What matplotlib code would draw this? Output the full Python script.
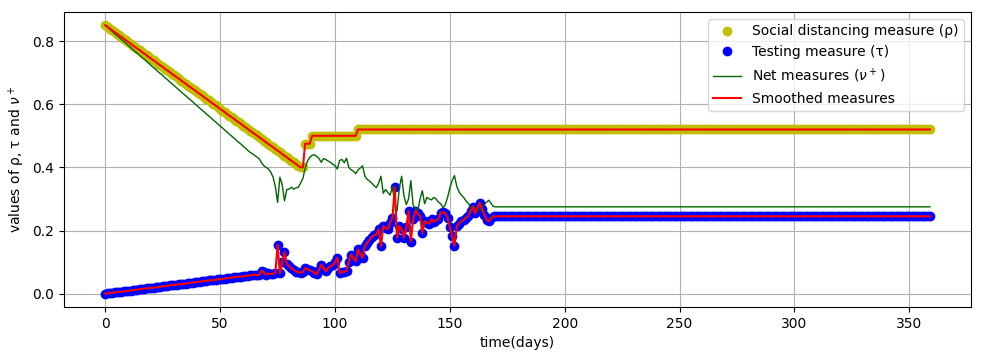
import matplotlib
matplotlib.use('Agg')
import matplotlib.pyplot as plt
import numpy as np

# Social distancing measure (rho), one value per day
rho_decline = [
    0.850, 0.845, 0.839, 0.834, 0.829, 0.824, 0.818, 0.813, 0.808, 0.802,
    0.797, 0.792, 0.786, 0.781, 0.776, 0.771, 0.765, 0.760, 0.755, 0.749,
    0.744, 0.739, 0.734, 0.728, 0.723, 0.718, 0.712, 0.707, 0.702, 0.696,
    0.691, 0.686, 0.681, 0.675, 0.670, 0.665, 0.659, 0.654, 0.649, 0.644,
    0.638, 0.633, 0.628, 0.622, 0.617, 0.612, 0.606, 0.601, 0.596, 0.591,
    0.585, 0.580, 0.575, 0.569, 0.564, 0.559, 0.554, 0.548, 0.543, 0.538,
    0.532, 0.527, 0.522, 0.516, 0.511, 0.506, 0.501, 0.495, 0.490, 0.485,
    0.479, 0.474, 0.469, 0.464, 0.458, 0.453, 0.448, 0.442, 0.437, 0.432,
    0.426, 0.421, 0.416, 0.411, 0.405, 0.400,
]
rho = rho_decline + [0.400] + [0.475] * 3 + [0.500] * 20 + [0.520] * 250

# Testing measure (tau)
tau_early = [
    0.000, 0.001, 0.002, 0.003, 0.004, 0.005, 0.006, 0.006, 0.007, 0.008,
    0.009, 0.010, 0.011, 0.012, 0.013, 0.014, 0.015, 0.016, 0.017, 0.018,
    0.018, 0.019, 0.020, 0.021, 0.022, 0.023, 0.024, 0.025, 0.026, 0.027,
    0.028, 0.029, 0.030, 0.030, 0.031, 0.032, 0.033, 0.034, 0.035, 0.036,
    0.037, 0.038, 0.039, 0.040, 0.041, 0.042, 0.042, 0.043, 0.044, 0.045,
    0.046, 0.047, 0.048, 0.049, 0.050, 0.051, 0.052, 0.053, 0.054, 0.054,
    0.055, 0.056, 0.057, 0.058, 0.059, 0.060,
]
tau_mid = [
    0.058, 0.060, 0.072, 0.068, 0.060, 0.064, 0.062, 0.063, 0.066, 0.155,
    0.064, 0.100, 0.132, 0.095, 0.087, 0.080, 0.075, 0.070, 0.068, 0.066,
    0.070, 0.080, 0.078, 0.074, 0.071, 0.066, 0.061, 0.075, 0.092, 0.082,
    0.071, 0.080, 0.087, 0.090, 0.100, 0.114, 0.066, 0.068, 0.070, 0.071,
    0.100, 0.124, 0.112, 0.103, 0.140, 0.125, 0.114, 0.151, 0.161, 0.170,
    0.180, 0.185, 0.188, 0.204, 0.150, 0.214, 0.208, 0.204, 0.225, 0.241,
    0.337, 0.177, 0.214, 0.204, 0.177, 0.210, 0.262, 0.165, 0.236, 0.262,
    0.255, 0.246, 0.193, 0.230, 0.225, 0.222, 0.236, 0.228, 0.232, 0.236,
    0.257, 0.258, 0.255, 0.241, 0.210, 0.183, 0.152, 0.214, 0.222, 0.230,
    0.234, 0.240, 0.246, 0.262, 0.276, 0.254, 0.272, 0.288, 0.268, 0.250,
    0.232, 0.230, 0.240,
]
tau = tau_early + tau_mid + [0.245] * 191

# Net measures (nu+)
net_early = [
    0.850, 0.844, 0.837, 0.831, 0.824, 0.818, 0.812, 0.805, 0.799, 0.793,
    0.786, 0.780, 0.773, 0.767, 0.761, 0.754, 0.748, 0.742, 0.735, 0.729,
    0.722, 0.716, 0.710, 0.703, 0.697, 0.691, 0.684, 0.678, 0.671, 0.665,
    0.659, 0.652, 0.646, 0.639, 0.633, 0.627, 0.620, 0.614, 0.608, 0.601,
    0.595, 0.588, 0.582, 0.576, 0.569, 0.563, 0.557, 0.550, 0.544, 0.537,
    0.531, 0.525, 0.518, 0.512, 0.505, 0.499, 0.493, 0.486, 0.480, 0.474,
    0.467, 0.461, 0.454, 0.448,
]
net_mid = [
    0.443, 0.438, 0.433, 0.427, 0.415, 0.405, 0.400, 0.395, 0.385, 0.370,
    0.340, 0.289, 0.369, 0.345, 0.294, 0.330, 0.331, 0.337, 0.331, 0.335,
    0.337, 0.350, 0.365, 0.398, 0.420, 0.432, 0.438, 0.440, 0.435, 0.428,
    0.416, 0.428, 0.425, 0.420, 0.416, 0.410, 0.405, 0.395, 0.422, 0.425,
    0.415, 0.429, 0.400, 0.392, 0.388, 0.380, 0.392, 0.398, 0.405, 0.372,
    0.362, 0.357, 0.350, 0.342, 0.336, 0.350, 0.372, 0.318, 0.330, 0.320,
    0.312, 0.340, 0.285, 0.262, 0.335, 0.372, 0.310, 0.282, 0.300, 0.358,
    0.280, 0.268, 0.262, 0.300, 0.326, 0.285, 0.305, 0.300, 0.297, 0.305,
    0.300, 0.290, 0.285, 0.272, 0.282, 0.305, 0.335, 0.358, 0.374, 0.340,
    0.322, 0.312, 0.305, 0.294, 0.286, 0.275, 0.270, 0.274, 0.266, 0.262,
    0.272, 0.282, 0.290, 0.296, 0.285, 0.276,
]
net = net_early + net_mid + [0.275] * 190

days_rho = np.arange(len(rho))
days_tau = np.arange(len(tau))
days_net = np.arange(len(net))

fig = plt.figure(figsize=(9.86, 3.6), dpi=100)
ax = fig.add_axes([0.065, 0.147, 0.920, 0.820])

ax.plot(days_rho, rho, 'o', color='y', label='Social distancing measure (ρ)')
ax.plot(days_tau, tau, 'o', color='b', label='Testing measure (τ)')
ax.plot(days_net, net, '-', color='darkgreen', linewidth=1.0, label=r'Net measures ($\nu^+$)')
ax.plot(days_rho, rho, '-', color='r', label='Smoothed measures')
ax.plot(days_tau, tau, '-', color='r')

ax.grid(True)
ax.set_xlabel('time(days)')
ax.set_ylabel(r'values of ρ, τ and $\nu^+$')
ax.legend(loc='upper right')

fig.savefig('out.png', dpi=100)
